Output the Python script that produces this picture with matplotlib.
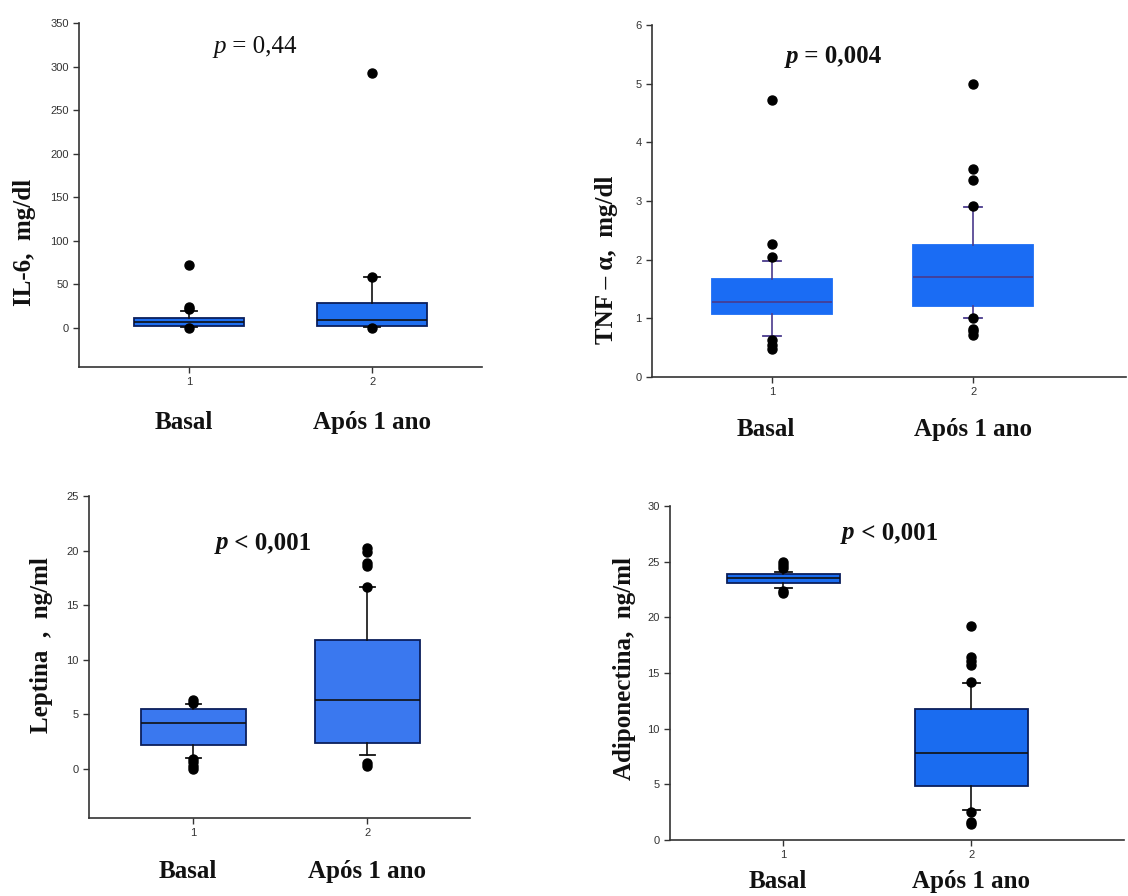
import matplotlib
matplotlib.use("Agg")
import matplotlib.pyplot as plt
from matplotlib.transforms import blended_transform_factory

# ---------------- data ----------------
groups = ["Basal", "Após 1 ano"]
tick_labels = ["1", "2"]

# IL-6
il6_q1 = [2.3, 2.3]
il6_med = [6.1, 8.8]
il6_q3 = [10.7, 28.0]
il6_lo = [1.0, 0.5]
il6_hi = [19.0, 58.0]
il6_out = [[72.0, 24.0, 22.0, 0.0], [293.0, 58.0, -0.5]]

# TNF-alpha
tnf_q1 = [1.07, 1.21]
tnf_med = [1.27, 1.70]
tnf_q3 = [1.67, 2.25]
tnf_lo = [0.70, 1.00]
tnf_hi = [1.97, 2.90]
tnf_out = [[4.72, 2.27, 2.05, 0.63, 0.55, 0.48],
           [4.99, 3.54, 3.36, 2.92, 1.00, 0.82, 0.78, 0.72]]

# Leptina
lep_q1 = [2.2, 2.41]
lep_med = [4.18, 6.28]
lep_q3 = [5.49, 11.8]
lep_lo = [1.0, 1.28]
lep_hi = [5.95, 16.65]
lep_out = [[6.28, 6.05, 0.9, 0.6, 0.3, 0.0],
           [20.2, 19.9, 18.9, 18.6, 16.7, 0.55, 0.3]]

# Adiponectina
adi_q1 = [23.08, 4.85]
adi_med = [23.5, 7.78]
adi_q3 = [23.89, 11.77]
adi_lo = [22.63, 2.66]
adi_hi = [24.1, 14.1]
adi_out = [[25.0, 24.7, 24.4, 22.4, 22.2],
           [19.22, 16.4, 16.1, 15.75, 14.2, 2.5, 1.6, 1.4]]

SERIF = "Liberation Serif"
SANS = "Liberation Sans"

fig = plt.figure(figsize=(11.28, 8.96), dpi=100)
W, H = 1128.0, 896.0


def axes_px(left, right, top, bottom):
    return fig.add_axes([left / W, 1 - bottom / H, (right - left) / W, (bottom - top) / H])


def panel(ax, q1, med, q3, lo, hi, out, ylim, yticks, xlim, fill, edge, wcol,
          ylabel, ylabel_xy, ptxt, pxy, pbold, glabel_y):
    stats = []
    for i in range(2):
        stats.append(dict(q1=q1[i], med=med[i], q3=q3[i], whislo=lo[i], whishi=hi[i],
                          fliers=out[i]))
    ax.bxp(stats, positions=[1, 2], widths=0.6, capwidths=0.09, patch_artist=True,
           showfliers=True,
           boxprops=dict(facecolor=fill, edgecolor=edge, linewidth=1.3),
           medianprops=dict(color=wcol, linewidth=1.2),
           whiskerprops=dict(color=wcol, linewidth=1.2),
           capprops=dict(color=wcol, linewidth=1.3),
           flierprops=dict(marker="o", markerfacecolor="black", markeredgecolor="black",
                           markersize=6.5, linestyle="none"))
    ax.set_xlim(*xlim)
    ax.set_ylim(*ylim)
    ax.set_yticks(yticks)
    ax.set_xticks([1, 2])
    ax.set_xticklabels(tick_labels)
    for s in ["top", "right"]:
        ax.spines[s].set_visible(False)
    for s in ["left", "bottom"]:
        ax.spines[s].set_color("#333333")
        ax.spines[s].set_linewidth(1.2)
    ax.spines["left"].set_bounds(ylim[0], yticks[-1])
    ax.tick_params(direction="out", length=4, width=1, colors="#333333",
                   labelsize=8, labelcolor="#333333")
    for lab in ax.get_xticklabels() + ax.get_yticklabels():
        lab.set_fontfamily(SANS)
    # group labels
    tr = blended_transform_factory(ax.transData, ax.transAxes)
    for x, g in zip([0.97, 2.0], groups):
        ax.text(x, glabel_y, g, transform=tr, ha="center", va="center",
                fontfamily=SERIF, fontweight="bold", fontsize=18, color="#111111")
    # y label
    fig.text(ylabel_xy[0] / W, 1 - ylabel_xy[1] / H, ylabel, rotation=90,
             ha="center", va="center", fontfamily=SERIF, fontweight="bold",
             fontsize=18, color="#111111")
    # p value
    w = "bold" if pbold else "normal"
    t1 = ax.text(pxy[0], pxy[1], "p", ha="right", va="baseline", fontfamily=SERIF,
                 fontstyle="italic", fontweight=w, fontsize=18, color="#111111")
    ax.annotate(ptxt, xy=(1, 0), xycoords=t1, ha="left", va="bottom",
                fontfamily=SERIF, fontweight=w, fontsize=18, color="#111111")


ax1 = axes_px(79, 482, 23, 367)
panel(ax1, il6_q1, il6_med, il6_q3, il6_lo, il6_hi, il6_out,
      (-45, 350), list(range(0, 351, 50)), (0.4, 2.6),
      "#1f6ff0", "#0b1f5c", "#111111",
      "IL-6,  mg/dl", (25, 242), " = 0,44", (1.20, 316), False, -0.16)

ax2 = axes_px(652, 1126, 25, 377)
panel(ax2, tnf_q1, tnf_med, tnf_q3, tnf_lo, tnf_hi, tnf_out,
      (0, 6), list(range(0, 7)), (0.403, 2.76),
      "#1a6cf4", "#1a6cf4", "#4a3a8c",
      "TNF \u2013 \u03b1,  mg/dl", (606, 260), " = 0,004", (1.13, 5.36), True, -0.15)

ax3 = axes_px(89, 470, 496, 818)
panel(ax3, lep_q1, lep_med, lep_q3, lep_lo, lep_hi, lep_out,
      (-4.5, 25), list(range(0, 26, 5)), (0.4, 2.59),
      "#3a78ef", "#0b1f5c", "#111111",
      "Leptina  ,  ng/ml", (42, 645), " < 0,001", (1.20, 20.1), True, -0.165)

ax4 = axes_px(670, 1124, 506, 840)
panel(ax4, adi_q1, adi_med, adi_q3, adi_lo, adi_hi, adi_out,
      (0, 30), list(range(0, 31, 5)), (0.4, 2.81),
      "#1a6cf0", "#0b1f5c", "#111111",
      "Adiponectina,  ng/ml", (624, 668), " < 0,001", (1.38, 27.05), True, -0.125)

fig.savefig("out.png", dpi=100)
